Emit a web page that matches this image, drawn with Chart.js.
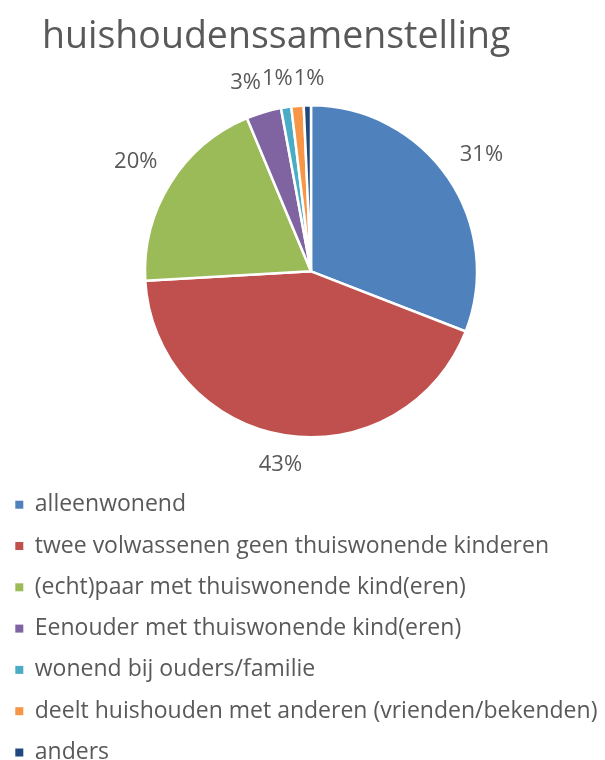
<!DOCTYPE html>
<html>
<head>
<meta charset="utf-8">
<script src="https://cdn.jsdelivr.net/npm/chart.js@4/dist/chart.umd.min.js"></script>
<style>
  html, body { margin: 0; padding: 0; background: #fff; overflow: hidden; }
  #wrap { width: 605px; height: 760px; position: relative; overflow: hidden; }
  #box { position: absolute; left: -3px; top: 0; width: 628px; height: 774px; }
</style>
</head>
<body>
<div id="wrap"><div id="box"><canvas id="pieChart"></canvas></div></div>
<script>
const chartTitle = "huishoudenssamenstelling";
const categories = [
    "alleenwonend",
    "twee volwassenen geen thuiswonende kinderen",
    "(echt)paar met thuiswonende kind(eren)",
    "Eenouder met thuiswonende kind(eren)",
    "wonend bij ouders/familie",
    "deelt huishouden met anderen (vrienden/bekenden)",
    "anders"
];
const shares = [30.9, 43.2, 19.6, 3.4, 1.0, 1.2, 0.7];
const colors = ["#4F81BD", "#C0504D", "#9BBB59", "#8064A2", "#4BACC6", "#F79646", "#1F497D"];

const textColor = "#595959";
const fontFamily = "'Open Sans', 'Noto Sans', sans-serif";

// title drawn left-aligned like the original (canvas sits 3px left of the page)
const titlePlugin = {
    id: "leftTitle",
    afterDraw(chart) {
        const ctx = chart.ctx;
        ctx.save();
        ctx.font = "37.5px " + fontFamily;
        ctx.fillStyle = textColor;
        ctx.textAlign = "left";
        ctx.textBaseline = "alphabetic";
        ctx.fillText(chartTitle, 45, 48);
        ctx.restore();
    }
};

// percentage labels just outside the slices, pushed apart when they collide
const outsideLabels = {
    id: "outsideLabels",
    afterDatasetsDraw(chart) {
        const ctx = chart.ctx;
        const meta = chart.getDatasetMeta(0);
        const size = 22;
        const h = size * 0.75;
        ctx.save();
        ctx.font = size + "px " + fontFamily;
        ctx.fillStyle = textColor;
        ctx.textAlign = "center";
        ctx.textBaseline = "middle";
        const boxes = [];
        meta.data.forEach((arc, i) => {
            const v = shares[i];
            if (v < 1) return;
            const p = arc.getProps(["x", "y", "startAngle", "endAngle", "outerRadius"], true);
            const mid = (p.startAngle + p.endAngle) / 2;
            const txt = Math.round(v) + "%";
            const w = ctx.measureText(txt).width;
            const c = Math.cos(mid), s = Math.sin(mid);
            const d = p.outerRadius + 18 + Math.abs(c) * w / 2 + Math.abs(s) * h / 2;
            boxes.push({ txt, w, x: p.x + c * d, y: p.y + s * d });
        });
        for (let pass = 0; pass < 20; pass++) {
            for (let i = 1; i < boxes.length; i++) {
                const a = boxes[i - 1], b = boxes[i];
                if (Math.abs(a.y - b.y) >= h) continue;
                const overlap = (a.w + b.w) / 2 + 1 - Math.abs(b.x - a.x);
                if (overlap > 0) {
                    const dir = b.x >= a.x ? 1 : -1;
                    a.x -= dir * overlap / 2;
                    b.x += dir * overlap / 2;
                }
            }
        }
        boxes.forEach(b => ctx.fillText(b.txt, b.x, b.y));
        ctx.restore();
    }
};

const ctx = document.getElementById("pieChart").getContext("2d");
new Chart(ctx, {
    type: "pie",
    data: {
        labels: categories,
        datasets: [{
            data: shares,
            backgroundColor: colors,
            borderColor: "#ffffff",
            borderWidth: 2.5,
            radius: 166
        }]
    },
    options: {
        responsive: true,
        maintainAspectRatio: false,
        animation: false,
        layout: {
            padding: { top: 67.8, left: 0, right: 0, bottom: 0 }
        },
        plugins: {
            tooltip: { enabled: false },
            title: { display: false },
            legend: {
                position: "bottom",
                align: "start",
                labels: {
                    boxWidth: 8,
                    boxHeight: 8,
                    padding: 18.3,
                    color: textColor,
                    font: { size: 23, family: fontFamily },
                    generateLabels(chart) {
                        return Chart.overrides.pie.plugins.legend.labels.generateLabels(chart)
                            .map(item => Object.assign(item, { lineWidth: 0 }));
                    }
                }
            }
        }
    },
    plugins: [titlePlugin, outsideLabels]
});
</script>
</body>
</html>
